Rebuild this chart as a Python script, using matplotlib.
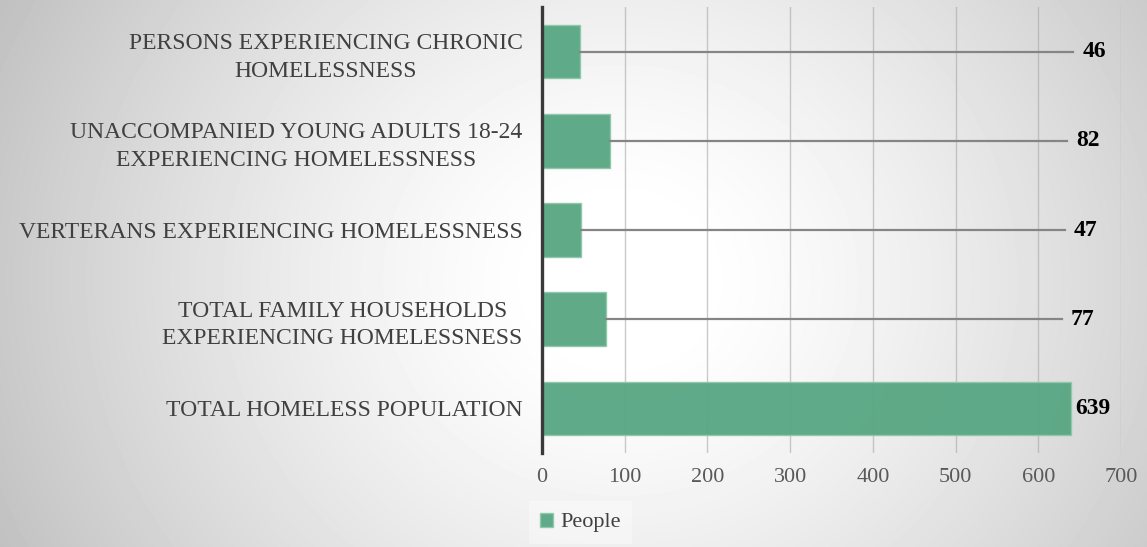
import numpy as np
import matplotlib.pyplot as plt

# data (bottom to top, as drawn)
categories = [
    "TOTAL HOMELESS POPULATION",
    "TOTAL FAMILY HOUSEHOLDS\nEXPERIENCING HOMELESSNESS",
    "VERTERANS EXPERIENCING HOMELESSNESS",
    "UNACCOMPANIED YOUNG ADULTS 18-24\nEXPERIENCING HOMELESSNESS",
    "PERSONS EXPERIENCING CHRONIC\nHOMELESSNESS",
]
people = [639, 77, 47, 82, 46]
xticks = [0, 100, 200, 300, 400, 500, 600, 700]

# where the leader lines stop (data units), None = label sits at bar end
leader_end = [None, 628, 632, 635, 642]

BAR = "#57a682"
TEXT = "#404040"
FONT = "Liberation Serif"

plt.rcParams['font.family'] = FONT

fig = plt.figure(figsize=(11.47, 5.47), dpi=100)

# radial grey background
bg = fig.add_axes([0, 0, 1, 1], zorder=-10)
h, w = 547, 1147
yy, xx = np.mgrid[0:h, 0:w]
r = np.sqrt((xx - 620) ** 2 + ((yy - 280) * 1.1) ** 2) / 640
r = np.clip((r - 0.12) / 0.88, 0, 1.2)
shade = 1.0 - 0.22 * r ** 1.3
bg.imshow(shade, cmap='gray', vmin=0, vmax=1, aspect='auto', interpolation='bilinear')
bg.axis('off')

ax = fig.add_axes([0.4725, 0.172, 0.505, 0.815])
ax.patch.set_alpha(0)

y = np.arange(len(categories))
ax.barh(y, people, height=0.6, color=BAR, edgecolor="#8fc8ab", linewidth=1,
        alpha=0.95, zorder=2, label="People")

for i, v in enumerate(people):
    if leader_end[i] is None:
        ax.text(v + 5, i, str(v), va='center', ha='left', fontsize=17,
                fontweight='bold', color='black', zorder=4)
    else:
        ax.plot([v, leader_end[i]], [i, i], color="#858585", lw=1.6, zorder=3)
        ax.text(leader_end[i] + 11, i, str(v), va='center', ha='left',
                fontsize=17, fontweight='bold', color='black', zorder=4)

ax.set_xlim(0, 700)
ax.set_ylim(-0.5, len(categories) - 0.5)
ax.set_xticks(xticks)
ax.set_yticks(y)
ax.set_yticklabels(categories, multialignment='center', linespacing=1.4)
ax.tick_params(axis='both', length=0, labelcolor=TEXT)
ax.tick_params(axis='y', pad=14, labelsize=17)
ax.tick_params(axis='x', pad=11, labelsize=16, labelcolor="#595959")

ax.grid(axis='x', color="#a8a8a8", lw=1, alpha=0.6, zorder=0)
ax.set_axisbelow(True)
for s in ['top', 'right', 'bottom']:
    ax.spines[s].set_visible(False)
ax.spines['left'].set_color("#3a3a3a")
ax.spines['left'].set_linewidth(2.4)
ax.spines['left'].set_zorder(5)

leg = fig.legend(loc='lower center', bbox_to_anchor=(0.506, -0.014), fontsize=16,
                 handlelength=0.6, handleheight=0.6, handletextpad=0.3,
                 frameon=True, fancybox=False, borderpad=0.5)
leg.get_frame().set_facecolor('white')
leg.get_frame().set_alpha(0.35)
leg.get_frame().set_edgecolor('none')
for t in leg.get_texts():
    t.set_color(TEXT)

fig.savefig("out.png", dpi=100)
